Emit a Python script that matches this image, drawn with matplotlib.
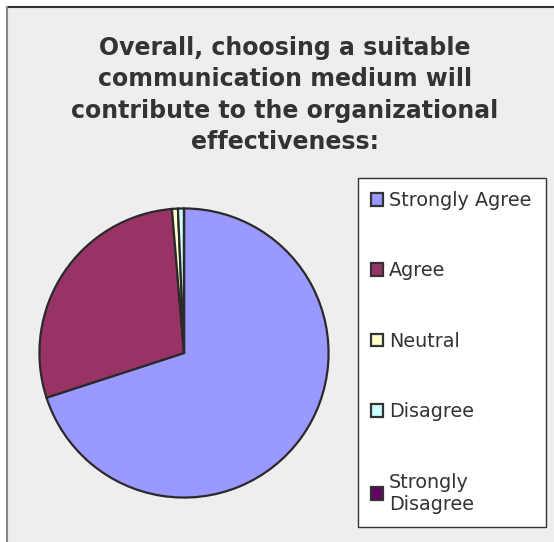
import matplotlib.pyplot as plt
from matplotlib.patches import Rectangle
from matplotlib.lines import Line2D

# survey responses
labels = ['Strongly Agree', 'Agree', 'Neutral', 'Disagree', 'Strongly\nDisagree']
counts = [105, 43, 1, 1, 0]
colors = ['#9999FF', '#993366', '#FFFFCC', '#CCFFFF', '#660066']

title = ('Overall, choosing a suitable\ncommunication medium will\n'
         'contribute to the organizational\neffectiveness:')

W, H = 554, 542
fig = plt.figure(figsize=(W / 100, H / 100), dpi=100)
fig.patch.set_facecolor('white')

# grey chart area with a dark top rule and grey left rule
fig.patches.append(Rectangle((7 / W, 0), 1, 1 - 7 / H, transform=fig.transFigure,
                             facecolor='#EEEEEE', edgecolor='none', zorder=-5))
fig.lines.append(Line2D([7 / W, 1], [1 - 7 / H, 1 - 7 / H], transform=fig.transFigure,
                        color='#333333', lw=1.5, zorder=-4))
fig.lines.append(Line2D([7 / W, 7 / W], [0, 1 - 7 / H], transform=fig.transFigure,
                        color='#888888', lw=1.5, zorder=-4))

fig.text(285 / W, 1 - 95 / H, title, ha='center', va='center', fontsize=17.0,
         fontweight='bold', color='#333333', linespacing=1.37,
         family='DejaVu Sans')

# pie: centre (184, 353), radius 146 px
cx, cy, r = 184, 353, 146
ax = fig.add_axes([(cx - r) / W, 1 - (cy + r) / H, 2 * r / W, 2 * r / H])
ax.set_facecolor('none')
wedges, _ = ax.pie(counts, colors=colors, startangle=90, counterclock=False,
                   radius=1, wedgeprops=dict(edgecolor='#2a2a2a', linewidth=1.6))
ax.set_xlim(-1.01, 1.01)
ax.set_ylim(-1.01, 1.01)
ax.set_aspect('equal')
ax.axis('off')

handles = [Rectangle((0, 0), 1, 1, facecolor=c, edgecolor='#333333', linewidth=1.6)
           for c in colors]
leg = fig.legend(handles, labels, loc='upper left',
                 bbox_to_anchor=(358 / W, 1 - 522 / H, 188 / W, 344 / H),
                 mode='expand', fontsize=13.8, frameon=True, fancybox=False,
                 edgecolor='#333333', facecolor='white', framealpha=1,
                 handlelength=0.65, handleheight=0.65, handletextpad=0.3,
                 labelspacing=2.68, borderpad=0.68, borderaxespad=0)
leg.get_frame().set_linewidth(1.0)
for t in leg.get_texts():
    t.set_color('#333333')

fig.savefig('out.png', dpi=100)
